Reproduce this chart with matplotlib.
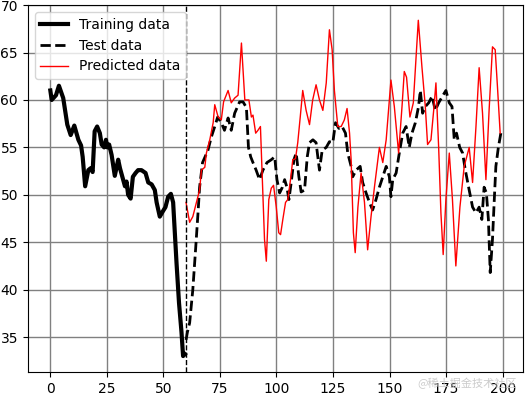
import numpy as np
import matplotlib.pyplot as plt

# Training data
train_x = [0, 0.6, 2.5, 3.8, 5.7, 7.5, 9.0, 10.6, 12.4, 13.6, 14.3, 15.4, 16.8, 17.8, 18.7, 19.6,
           20.7, 21.9, 22.7, 23.8, 24.6, 25.2, 26, 27.1, 28.5, 30, 30.8, 33, 33.7, 34.4, 35.5,
           36.5, 37.7, 38.8, 40.3, 42.1, 43.3, 44.8, 46.2, 47, 48.4, 49.6, 50.9, 52.1, 53.3,
           54.3, 55.8, 56.9, 58, 58.7, 59.5]
train_y = [61.0, 60.0, 60.5, 61.5, 60.2, 57.4, 56.3, 57.3, 55.8, 55.2, 54.0, 50.9, 52.6, 52.8, 52.4, 56.7,
           57.2, 56.5, 55.3, 55.0, 55.8, 55.0, 55.3, 54.2, 52.0, 53.7, 52.8, 50.9, 51.4, 50.0, 49.6,
           51.9, 52.3, 52.6, 52.6, 52.3, 51.3, 51.1, 50.5, 49.2, 47.7, 48.2, 48.7, 49.8, 50.1,
           49.2, 42.8, 38.6, 35.5, 33.0, 33.2]

# Test data
test_x = [60, 60.6, 61.6, 63, 64.3, 65.3, 66, 67.3, 69.7, 71.2, 72.7, 74, 75.6, 77, 78.6, 80, 81.5,
          83.7, 85.2, 86.7, 87.6, 88.6, 89.6, 91, 92.5, 94, 95.8, 97.7, 99.2, 100.2, 101.4, 102.6,
          103.6, 104.6, 105.5, 106.5, 107.7, 108.7, 109.9, 110.9, 112.4, 113.6, 114.6, 116.1, 117.5,
          119, 120.2, 122, 123.4, 124.9, 126.1, 127.6, 129, 130.5, 131.5, 133, 133.7, 135.2, 137,
          138.1, 139.6, 141.1, 142.5, 144, 145.5, 147, 148.5, 149.9, 150.6, 151.4, 152.9, 154.3,
          155.8, 157.3, 158.7, 159.9, 161.4, 162.8, 163.6, 164.6, 165.8, 167.3, 168.8, 170.2, 171.7,
          173.4, 174.9, 176.4, 177.6, 178.6, 179.6, 181, 182.3, 183.5, 185.2, 186.7, 188.2, 189.6,
          190.8, 191.8, 192.8, 193.7, 194.5, 195.5, 196.3, 197, 198.1, 199.2]
test_y = [34.7, 35.5, 36.5, 40.0, 44.5, 48.1, 50.8, 53.4, 54.7, 56.1, 57.2, 58.2, 57.6, 56.8, 58.1, 56.8, 58.6,
          59.8, 59.8, 59.2, 55.0, 54.0, 53.4, 52.6, 51.6, 52.6, 53.4, 53.7, 54.0, 51.6, 50.2, 50.8,
          51.6, 50.8, 49.5, 51.3, 53.7, 54.4, 51.9, 50.3, 50.5, 54.0, 55.5, 55.8, 55.5,
          52.6, 54.7, 55.0, 55.6, 55.5, 57.6, 57.0, 57.2, 56.5, 54.4, 53.0, 51.9, 52.6, 53.0,
          51.3, 50.2, 49.2, 48.4, 49.5, 50.8, 51.9, 53.0, 51.9, 49.8, 51.6, 52.3, 54.4,
          56.5, 57.2, 55.0, 56.5, 57.6, 59.3, 61.0, 58.6, 59.3, 59.7, 60.4, 58.9, 59.7,
          60.4, 61.0, 59.7, 59.3, 55.8, 56.5, 55.0, 54.4, 52.6, 50.5, 48.7, 48.1, 48.7,
          47.4, 50.8, 50.2, 47.4, 41.8, 45.3, 49.5, 53.0, 55.0, 56.5]

# Predicted data
pred_x = [60, 61.6, 63, 64.6, 66, 66.8, 68.3, 69, 70.5, 72, 72.7, 74.2, 75.6, 76.6, 78.6, 80, 81.5,
          83, 84.5, 86, 87.8, 88.9, 89.6, 90.8, 91.8, 92.9, 93.7, 94.7, 95.5, 96.6, 97.7, 98.7,
          99.9, 101, 101.8, 102.8, 104, 105, 106.2, 107.2, 108.4, 109.4, 110.5, 111.6, 113.1,
          114.6, 116, 117.5, 119, 120.5, 122, 123.4, 124.6, 125.6, 127.1, 128.6, 130, 131.2,
          132.3, 133, 134, 134.8, 136, 137.4, 138.9, 140.3, 141.8, 143.3, 145.5, 147, 148.5,
          150.6, 152.1, 154, 155.5, 156.5, 157.5, 159, 160.5, 162.7, 164.3, 165.8, 166.8, 168.3,
          169.5, 170.5, 171.7, 172.7, 173.7, 174.9, 176.4, 177.8, 179.3, 181.1, 183, 185.2,
          186.7, 188.2, 189.6, 191.1, 192.6, 194, 195.5, 196.7, 197.7, 198.9]
pred_y = [49.2, 47.1, 47.7, 49.2, 50.5, 52.6, 52.9, 54.4, 55.8, 57.6, 59.5, 58.2, 57.9, 59.8, 61.0, 59.7, 60.2,
          60.5, 66.0, 60.0, 60.0, 58.2, 58.4, 56.5, 56.8, 57.2, 51.9, 45.3, 43.0, 49.5, 50.7, 51.0,
          48.7, 46.0, 45.8, 47.4, 49.2, 49.5, 51.6, 53.7, 53.8, 55.5, 58.2, 61.0, 58.9,
          57.4, 60.0, 61.6, 60.0, 58.9, 61.8, 67.4, 65.3, 61.0, 57.2, 57.2, 57.9, 59.1,
          56.5, 53.7, 46.0, 43.9, 48.7, 52.3, 49.2, 44.2, 47.7, 50.8, 55.0, 53.4, 55.8,
          62.1, 59.3, 54.4, 59.3, 63.0, 62.4, 58.2, 59.7, 68.4, 63.5, 59.3, 55.3, 55.8,
          58.9, 61.8, 55.0, 48.1, 43.7, 49.5, 54.4, 49.5, 42.5, 48.7, 53.0, 55.0,
          51.3, 57.2, 63.4, 58.6, 51.6, 58.9, 65.6, 65.3, 61.4, 56.5]

split = 60

fig = plt.figure(figsize=(5.25, 3.93), dpi=100)
ax = fig.add_axes([0.053, 0.053, 0.943, 0.934])

ax.plot(train_x, train_y, color='black', lw=3, label='Training data')
ax.plot(test_x, test_y, color='black', lw=2, ls='--', label='Test data')
ax.plot(pred_x, pred_y, color='red', lw=1, label='Predicted data')
ax.axvline(split, color='black', ls='--', lw=1)

ax.set_xlim(-9.95, 208.95)
ax.set_ylim(31.3, 70)
ax.set_xticks([0, 25, 50, 75, 100, 125, 150, 175, 200])
ax.set_yticks([35, 40, 45, 50, 55, 60, 65, 70])
ax.grid(True, color='grey', lw=1)
ax.set_axisbelow(True)
ax.legend(loc='upper left')

fig.text(0.985, 0.01, '@稀土掘金技术社区', ha='right', va='bottom', fontsize=8,
         color='#cccccc', family=['Noto Sans CJK SC', 'DejaVu Sans'])

fig.savefig('out.png', dpi=100)
